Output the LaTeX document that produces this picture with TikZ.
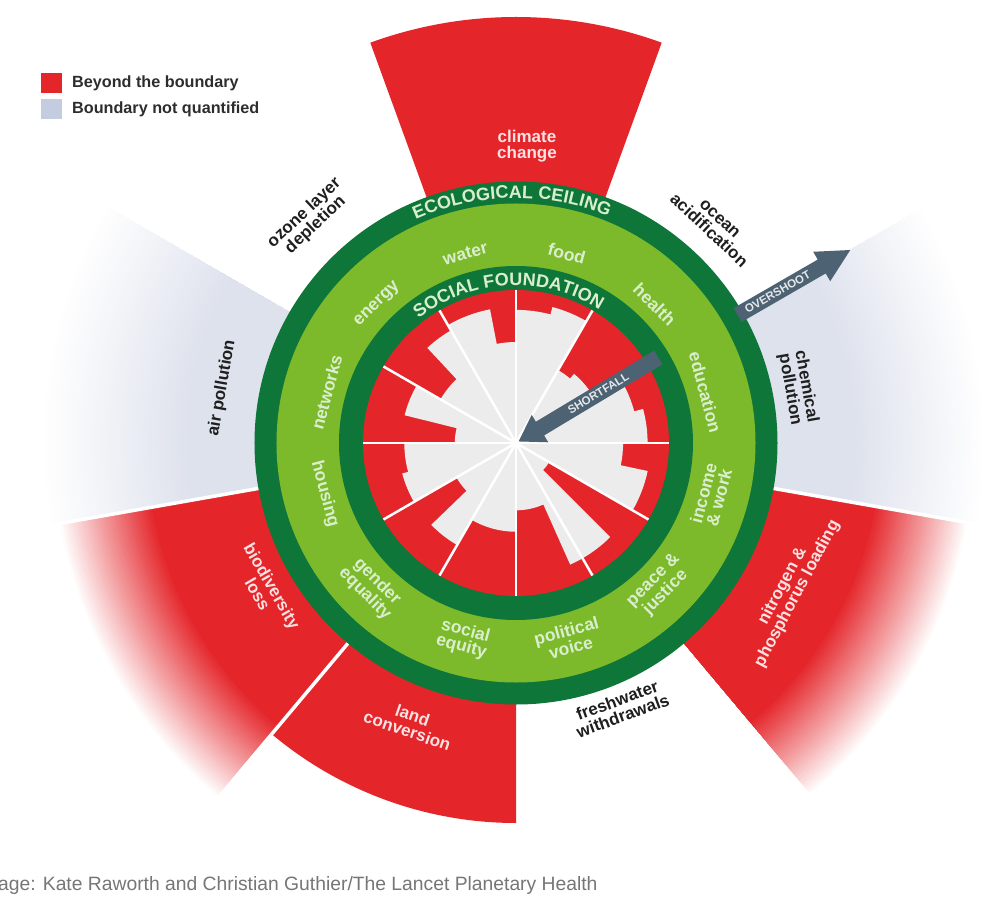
\documentclass[tikz,border=0pt]{standalone}
\usepackage{fontspec}
\setmainfont{Liberation Sans}
\usetikzlibrary{decorations.text}
\definecolor{dred}{RGB}{228,37,42}
\definecolor{dgreen}{RGB}{15,118,58}
\definecolor{lgreen}{RGB}{124,186,44}
\definecolor{coregrey}{RGB}{236,236,236}
\definecolor{bgrey}{RGB}{222,226,237}
\definecolor{legendgrey}{RGB}{196,205,224}
\definecolor{slate}{RGB}{77,98,114}
\definecolor{ringtxt}{RGB}{218,238,205}
\definecolor{pinktxt}{RGB}{252,226,226}
\definecolor{captxt}{RGB}{118,118,118}
\definecolor{legtxt}{RGB}{45,45,45}
\newcommand\ecfont{\color{ringtxt}\fontsize{18}{18}\selectfont\bfseries}
\begin{document}
\begin{tikzpicture}[x=1pt,y=1pt,
  ringlbl/.style={text=ringtxt, font=\fontsize{17.5}{16}\selectfont\bfseries, align=center, inner sep=0pt},
  outlbl/.style={text=black!88, font=\fontsize{17}{16.5}\selectfont\bfseries, align=center, inner sep=0pt},
  redlbl/.style={outlbl, text=pinktxt},
  arrowlbl/.style={text=white!85!slate, font=\fontsize{11.5}{11.5}\selectfont\bfseries, inner sep=0pt},
  legtext/.style={text=legtxt, font=\fontsize{16.2}{16.2}\selectfont\bfseries, anchor=west, inner sep=0pt},
  sep/.style={white, line width=3.5pt}]
\useasboundingbox (-516,-472) rectangle (484,443);
\fill[white] (-516,-472) rectangle (484,443);

% faded outer wedges
\foreach \a/\b/\rz/\ro/\col in {150/190/330/475/bgrey, -10/30/340/470/bgrey, -170/-130/370/465/dred, -50/-10/365/460/dred} {
  \foreach \k in {40,39,...,0} {
    \pgfmathsetmacro\rr{\rz+\k*(\ro-\rz)/40}
    \pgfmathtruncatemacro\pc{100-2.5*\k}
    \fill[\col!\pc!white] (0,0) -- (\a:\rr) arc[start angle=\a, end angle=\b, radius=\rr] -- cycle;
  }
}
% solid outer wedges
\fill[dred] (0,0) -- (70:426) arc[start angle=70, end angle=110, radius=426] -- cycle;
\fill[dred] (0,0) -- (-130:380) arc[start angle=-130, end angle=-90, radius=380] -- cycle;
\foreach \a in {-170,-130,-10} \draw[sep] (\a:250) -- (\a:490);

% rings
\fill[dgreen] (0,0) circle (261.5);
\fill[lgreen] (0,0) circle (239.5);
\fill[dgreen] (0,0) circle (177);

% social foundation core: red disc, grey staircase as one path
\fill[dred] (0,0) circle (153);
\fill[coregrey] (0:131.58)
  \foreach \a/\b/\f in {0/15/0.86, 15/30/0.80, 30/50/0.59, 50/60/0.55, 60/75/0.92, 75/90/0.87, 90/101/0.66, 101/120/0.89, 120/133/0.85, 133/150/0.57, 150/166/0.75, 166/180/0.40, 180/195/0.73, 195/210/0.77, 210/224/0.45, 224/240/0.77, 240/270/0.58, 270/294/0.44, 294/300/0.87, 300/315/0.87, 315/330/0.25, 330/348/0.88, 348/360/0.70}
  { -- (\a:153*\f) arc[start angle=\a, end angle=\b, radius=153*\f] } -- cycle;
\foreach \a in {0,30,...,330} \draw[white, line width=2.5pt] (0,0) -- (\a:153);

% ring titles
\path[decorate, decoration={text along path, text align=center, text={|\ecfont|ECOLOGICAL CEILING}}]
  (136:245) arc[start angle=136, end angle=46, radius=245];
\path[decorate, decoration={text along path, text align=center, text={|\ecfont|SOCIAL FOUNDATION}}]
  (155:157.5) arc[start angle=155, end angle=31, radius=157.5];

% arrows
\begin{scope}[rotate=30]
  \fill[slate] (256,-8) -- (353,-8) -- (353,-17) -- (386,0) -- (353,17) -- (353,8) -- (256,8) -- cycle;
  \node[arrowlbl, rotate=30] (ov) at (302,0) {OVERSHOOT};
\end{scope}
\begin{scope}[rotate=31]
  \fill[slate] (166,-8) -- (28,-8) -- (28,-16) -- (3,0) -- (28,16) -- (28,8) -- (166,8) -- cycle;
  \node[arrowlbl, rotate=31] (sf) at (96,0) {SHORTFALL};
\end{scope}

% social foundation labels
\node[ringlbl, rotate=15] (l1) at (105:196) {water};
\node[ringlbl, rotate=-15] (l2) at (75:196) {food};
\node[ringlbl, rotate=-45] (l3) at (45:196) {health};
\node[ringlbl, rotate=-75] (l4) at (15:196) {education};
\node[ringlbl, rotate=75] (l5) at (-15:202) {income\\\& work};
\node[ringlbl, rotate=45] (l6) at (-45:203) {peace \&\\justice};
\node[ringlbl, rotate=15] (l7) at (-75:203) {political\\voice};
\node[ringlbl, rotate=-15] (l8) at (-105:203) {social\\equity};
\node[ringlbl, rotate=-45] (l9) at (-135:205) {gender\\equality};
\node[ringlbl, rotate=-75] (l10) at (-165:198) {housing};
\node[ringlbl, rotate=75] (l11) at (165:196) {networks};
\node[ringlbl, rotate=45] (l12) at (135:196) {energy};

% planetary boundary labels
\node[redlbl] (b1) at (11,297) {climate\\change};
\node[outlbl, rotate=-43] (b2) at (198,218) {ocean\\acidification};
\node[outlbl, rotate=-80] (b3) at (282,55) {chemical\\pollution};
\node[redlbl, rotate=62] (b4) at (274,-147) {nitrogen \&\\phosphorus loading};
\node[outlbl, rotate=20] (b5) at (104,-265) {freshwater\\withdrawals};
\node[redlbl, rotate=-19] (b6) at (-106,-280) {land\\conversion};
\node[redlbl, rotate=-60] (b7) at (-251,-147) {biodiversity\\loss};
\node[outlbl, rotate=80] (b8) at (-294,55) {air pollution};
\node[outlbl, rotate=43] (b9) at (-206,224) {ozone layer\\depletion};

% legend
\fill[dred] (-475,350) rectangle (-454,370);
\fill[legendgrey] (-475,324) rectangle (-454,344);
\node[legtext] (lg1) at (-444,360) {Beyond the boundary};
\node[legtext] (lg2) at (-444,334) {Boundary not quantified};

% caption
\node[anchor=west, inner sep=0pt, text=captxt, font=\fontsize{19.3}{19.3}\selectfont] (cap) at (-518,-443) {age: Kate Raworth and Christian Guthier/The Lancet Planetary Health};
\end{tikzpicture}
\end{document}
